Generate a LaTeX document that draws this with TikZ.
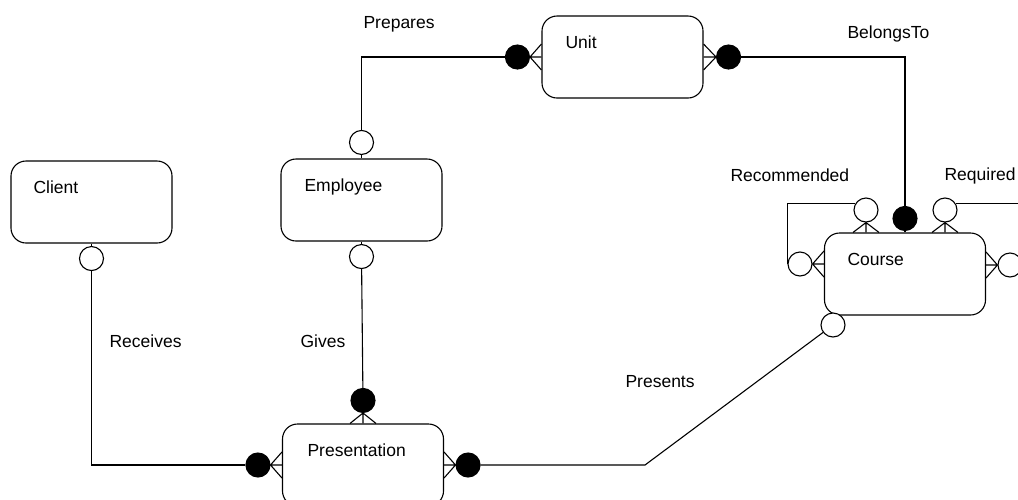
\documentclass[tikz,border=0pt]{standalone}
\usepackage{fontspec}
\setmainfont{Liberation Sans}
\newcommand\erfoot[3]{\draw (#1) -- (#2) (#1) -- ([#3=13pt]#2) (#1) -- ([#3=-13pt]#2);}
\begin{document}
\begin{tikzpicture}[x=1pt,y=-1pt,line width=1.1pt,
  entity/.style={draw, rounded corners=15pt, minimum width=161pt, minimum height=82pt, inner sep=0pt},
  ocirc/.style={draw, circle, fill=white, minimum size=24pt, inner sep=0pt},
  fcirc/.style={draw, circle, fill=black, minimum size=24pt, inner sep=0pt},
  txt/.style={anchor=base west, inner sep=0pt, font=\fontsize{17.5}{20}\selectfont},
]
\path[use as bounding box] (0,0) rectangle (1018,499);
\clip (0,0) rectangle (1018,499);

% entities
\node[entity] (unit)   at (622.5,57) {};
\node[entity] (client) at (91.5,202) {};
\node[entity] (emp)    at (361.5,200) {};
\node[entity] (course) at (905,274) {};
\node[entity] (pres)   at (363,465) {};

% entity texts
\node[txt] (tunit)   at (565,48)  {Unit};
\node[txt] (tclient) at (33,193)  {Client};
\node[txt] (temp)    at (304,191) {Employee};
\node[txt] (tcourse) at (847,265) {Course};
\node[txt] (tpres)   at (307,456) {Presentation};

% relationship labels
\node[txt] (lprep)  at (363,28)  {Prepares};
\node[txt] (lbel)   at (847,38)  {BelongsTo};
\node[txt] (lrec)   at (730,181) {Recommended};
\node[txt] (lreq)   at (944,180) {Required};
\node[txt] (lrecv)  at (109,347) {Receives};
\node[txt] (lgiv)   at (300,347) {Gives};
\node[txt] (lpre)   at (625,387) {Presents};

% Prepares
\node[ocirc] (pe) at ([yshift=16pt]emp.north) {};
\node[fcirc] (pu) at ([xshift=-24pt]unit.west) {};
\draw (emp.north) -- (pe);
\draw (pe) |- (pu);
\erfoot{pu.east}{unit.west}{yshift}

% BelongsTo
\node[fcirc] (bu) at ([xshift=25pt]unit.east) {};
\node[fcirc] (bc) at ([yshift=14pt]course.north) {};
\draw (bu) -| (bc);
\draw (bc) -- (course.north);
\erfoot{bu.west}{unit.east}{yshift}

% Receives
\node[ocirc] (cl) at ([yshift=-15pt]client.south) {};
\node[fcirc] (pl) at ([xshift=-24pt]pres.west) {};
\draw (client.south) -- (cl);
\draw (cl) |- (pl);
\erfoot{pl.east}{pres.west}{yshift}

% Gives
\node[ocirc] (ge) at ([yshift=-15pt]emp.south) {};
\node[fcirc] (gp) at ([yshift=23pt]pres.north) {};
\draw (emp.south) -- (ge);
\draw (ge) -- (gp);
\erfoot{gp.south}{pres.north}{xshift}

% Presents
\node[fcirc] (pr) at ([xshift=24pt]pres.east) {};
\node[ocirc] (cp) at (833,325) {};
\coordinate (bend) at (645,465);
\draw (pr) -- (bend) -- (cp);
\erfoot{pr.west}{pres.east}{yshift}

% Recommended (self loop)
\node[ocirc] (rt) at (866,210) {};
\node[ocirc] (rl) at (800,264) {};
\coordinate (rtE) at (rt.south |- course.north);
\coordinate (rlE) at (rl.east -| course.west);
\draw (rt.150) -| (rl.west);
\erfoot{rt.south}{rtE}{xshift}
\erfoot{rl.east}{rlE}{yshift}

% Required (self loop, leaves picture)
\node[ocirc] (qt) at (945,210) {};
\node[ocirc] (qr) at (1010,265) {};
\coordinate (qend) at (1030,204);
\coordinate (qtE) at (qt.south |- course.north);
\coordinate (qrE) at (qr.west -| course.east);
\draw (qt.30) -- (qt.30 -| qend);
\erfoot{qt.south}{qtE}{xshift}
\erfoot{qr.west}{qrE}{yshift}
\end{tikzpicture}
\end{document}
